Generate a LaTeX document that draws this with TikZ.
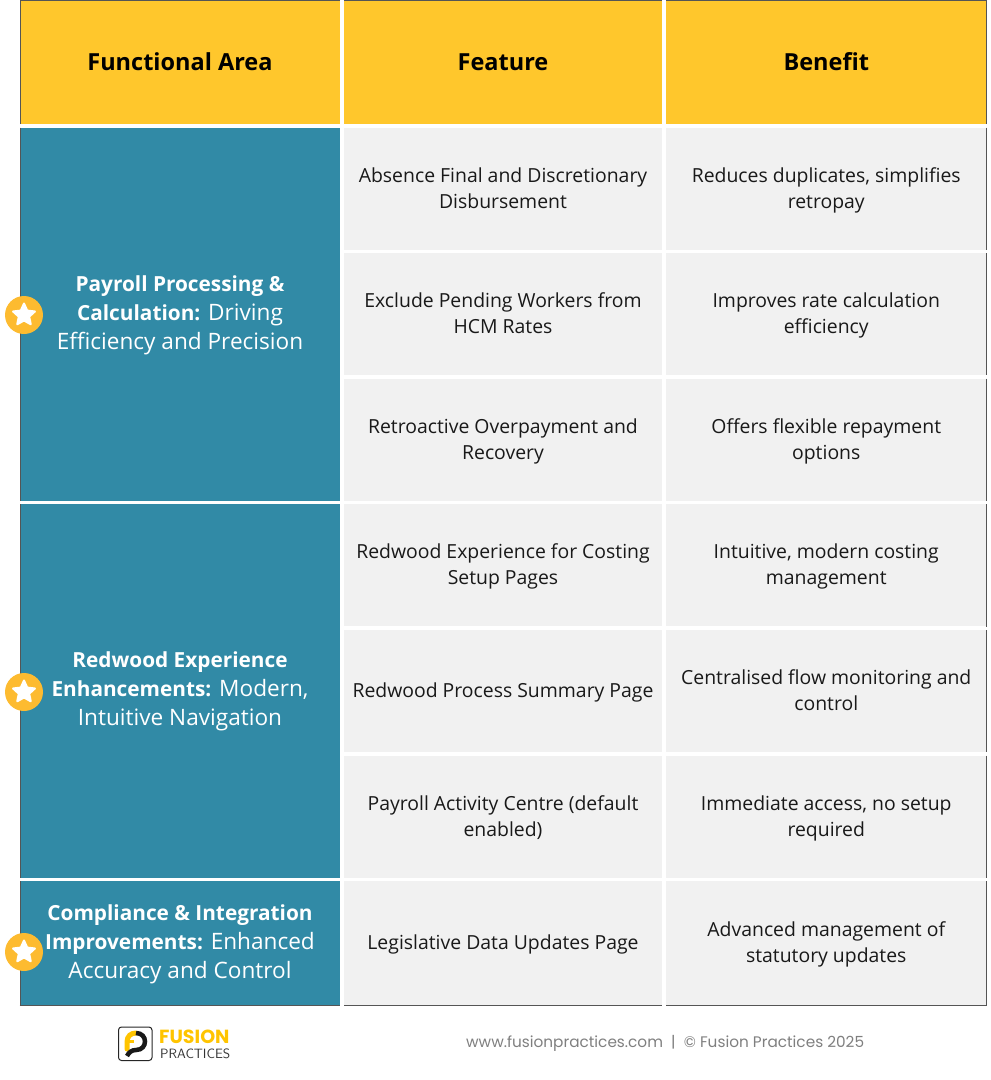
\documentclass[tikz,border=0pt]{standalone}
\usepackage{fontspec}
\setmainfont{Open Sans}
\newfontfamily\footfont{Poppins}
\usetikzlibrary{shapes.geometric}

\definecolor{headyellow}{HTML}{FFC72C}
\definecolor{areateal}{HTML}{318AA6}
\definecolor{cellgrey}{HTML}{F1F1F1}
\definecolor{staryellow}{HTML}{FDBB30}
\definecolor{edgegrey}{HTML}{555555}
\definecolor{footgrey}{HTML}{7F7F7F}
\definecolor{logoyellow}{HTML}{FFC400}

\newcommand{\cellstrut}{\vrule width 0pt height .75\baselineskip depth .25\baselineskip}
\newcommand{\areastrut}{\vrule width 0pt height .68\baselineskip depth .25\baselineskip}
\newcommand{\areabold}[1]{{\fontsize{20.8}{29}\selectfont\bfseries #1}}

\tikzset{
    bodytext/.style={inner sep=0, align=center, execute at begin node=\cellstrut, execute at end node=\cellstrut},
    headcell/.style={bodytext, fill=headyellow, minimum height=124, font=\fontsize{23.5}{34}\selectfont\bfseries},
    areacell/.style={bodytext, fill=areateal, text=white, minimum width=320, font=\fontsize{22.6}{29}\selectfont},
    textcell/.style={bodytext, fill=cellgrey, text=black!90, minimum height=122, font=\fontsize{19.4}{26}\selectfont},
    featcell/.style={textcell, minimum width=318},
    bencell/.style={textcell, minimum width=320.5},
    badge/.style={circle, fill=staryellow, minimum size=38, inner sep=0},
    badgestar/.style={star, star points=5, star point ratio=2.1, fill=white, draw=white, line width=2, line join=round, minimum size=23, inner sep=0},
    edgeline/.style={edgegrey, line width=1},
}

\begin{document}
\begin{tikzpicture}[x=1pt, y=-1pt]
    \useasboundingbox (0,0) rectangle (991,1080);

    % header row
    \node[headcell, minimum width=320] (headarea) at (180,62) {Functional Area};
    \node[headcell, minimum width=318] (headfeature) at (503,62) {Feature};
    \node[headcell, minimum width=320.5] (headbenefit) at (826.25,62) {Benefit};

    % left column
    \node[areacell, minimum height=373] (area1) at (180,314) {\areastrut\areabold{Payroll Processing \&}\\\areabold{Calculation:} Driving\\Efficiency and Precision};
    \node[areacell, minimum height=373.5] (area2) at (180,690.75) {\areastrut\areabold{Redwood Experience}\\\areabold{Enhancements:} Modern,\\Intuitive Navigation};
    \node[areacell, minimum height=124] (area3) at (180,943) {\areastrut\areabold{Compliance \& Integration}\\\areabold{Improvements:} Enhanced\\Accuracy and Control};

    % feature column
    \node[featcell] (feat1) at (503,188.5) {\cellstrut Absence Final and Discretionary\\Disbursement};
    \node[featcell] (feat2) at (503,314) {\cellstrut Exclude Pending Workers from\\HCM Rates};
    \node[featcell] (feat3) at (503,439.5) {\cellstrut Retroactive Overpayment and\\Recovery};
    \node[featcell] (feat4) at (503,565.25) {\cellstrut Redwood Experience for Costing\\Setup Pages};
    \node[featcell] (feat5) at (503,691) {Redwood Process Summary Page};
    \node[featcell] (feat6) at (503,816.5) {\cellstrut Payroll Activity Centre (default\\enabled)};
    \node[featcell, minimum height=124] (feat7) at (503,943) {Legislative Data Updates Page};

    % benefit column
    \node[bencell] (ben1) at (826.25,188.5) {\cellstrut Reduces duplicates, simplifies\\retropay};
    \node[bencell] (ben2) at (826.25,314) {\cellstrut Improves rate calculation\\efficiency};
    \node[bencell] (ben3) at (826.25,439.5) {\cellstrut Offers flexible repayment\\options};
    \node[bencell] (ben4) at (826.25,565.25) {\cellstrut Intuitive, modern costing\\management};
    \node[bencell] (ben5) at (826.25,691) {\cellstrut Centralised flow monitoring and\\control};
    \node[bencell] (ben6) at (826.25,816.5) {\cellstrut Immediate access, no setup\\required};
    \node[bencell, minimum height=124] (ben7) at (826.25,943) {\cellstrut Advanced management of\\statutory updates};

    % outer edge, cut by the white gaps
    \draw[edgeline] (20,124) -- (20,0.5) -- (340,0.5);
    \draw[edgeline] (344,0.5) -- (662,0.5);
    \draw[edgeline] (666,0.5) -- (986.5,0.5) -- (986.5,124);
    \foreach \ya/\yb in {127.5/500.5, 504/877.5, 881/1005} {
        \draw[edgeline] (20,\ya) -- (20,\yb);
    }
    \foreach \ya/\yb in {127.5/249.5, 253/375, 378.5/500.5, 504/626.5, 630/752, 755.5/877.5, 881/1005} {
        \draw[edgeline] (986.5,\ya) -- (986.5,\yb);
    }
    \draw[edgegrey, line width=1.5] (19.5,1005.5) -- (340,1005.5);
    \draw[edgegrey, line width=1.5] (344,1005.5) -- (662,1005.5);
    \draw[edgegrey, line width=1.5] (666,1005.5) -- (987,1005.5);

    % badges
    \foreach \name/\ypos in {a/315, b/692, c/952} {
        \node[badge] (badge\name) at (24,\ypos) {};
        \node[badgestar] (star\name) at (24,\ypos) {};
    }

    % logo
    \draw[black!85, line width=1, rounded corners=3] (118.5,1027) rectangle (152,1060.5);
    \draw[logoyellow, line width=5, line cap=round] (127,1049) -- (127,1042) .. controls (127,1036) and (131,1033) .. (136,1033);
    \draw[logoyellow, line width=3] (127,1041) -- (134,1041);
    \draw[black!90, line width=4.5] (136,1033) .. controls (148,1033) and (148,1050) .. (136,1050) .. controls (132,1050) and (129,1052) .. (127,1056);
    \node[anchor=west, inner sep=0, text height=13, text depth=0, text=logoyellow, font=\fontsize{19}{19}\selectfont\footfont\bfseries] (logotop) at (159,1036.5) {FUSION};
    \node[anchor=west, inner sep=0, text height=9.5, text depth=0, text=black!80, font=\fontsize{13.5}{14}\selectfont\sffamily] (logobottom) at (160,1053.5) {PRACTICES};

    % footer
    \node[anchor=west, inner sep=0, text=footgrey, font=\fontsize{15.3}{17}\selectfont\footfont] (footer) at (466,1043) {www.fusionpractices.com~~|~~© Fusion Practices 2025};
\end{tikzpicture}
\end{document}
